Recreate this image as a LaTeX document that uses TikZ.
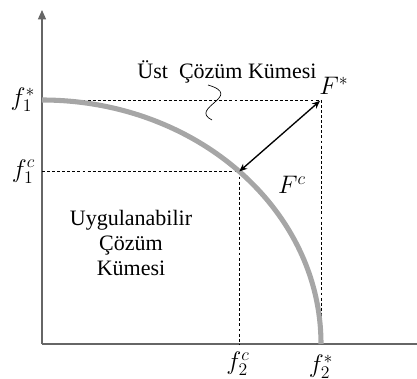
\RequirePackage{fix-cm}
\documentclass[tikz,border=0pt]{standalone}
\usepackage{fontspec}
\setmainfont{Liberation Serif}
\usepackage{tikz}
\usetikzlibrary{arrows.meta, positioning, calc}

\begin{document}
\begin{tikzpicture}[
    x=0.75pt, y=0.75pt,
    axis/.style = {draw=black!60, line width=1pt},
    guide/.style = {draw=black, dashed, dash pattern=on 2.2pt off 1.6pt, line width=0.5pt},
    front/.style = {draw=black!35, line width=3.8pt},
    gap/.style = {draw=black, line width=1pt, {Stealth[length=6pt,width=5pt]}-{Stealth[length=6pt,width=5pt]}},
    lbl/.style = {font=\fontsize{16.5}{18.75}\selectfont, inner sep=1pt, align=center},
    sym/.style = {font=\fontsize{19}{22}\selectfont, inner sep=1pt}
]
\useasboundingbox (0,0) rectangle (417,378);

% Points
\coordinate (O) at (42,34);
\coordinate (ytop) at (42,368);
\coordinate (xend) at (417,34);
\coordinate (Fs) at (321,278);
\coordinate (Fc) at ($(O)+(45:279 and 244)$);
\coordinate (top) at (42,278);
\coordinate (s1) at (208,293);
\coordinate (s2) at (212,258);

% Axes
\draw [axis, -{Triangle[length=7pt,width=6pt]}] (O) -- (ytop);
\draw [axis] (O) -- (xend);

% Guide lines
\draw [guide] (top) -- (Fs);
\draw [guide] (Fs) -- (Fs |- O);
\draw [guide] (O |- Fc) -- (Fc);
\draw [guide] (Fc) -- (Fc |- O);

% Front
\draw [front] (top) arc[start angle=90, end angle=0, x radius=279, y radius=244];

% Distance
\draw [gap, shorten <=1pt] (Fs) -- (Fc);

% Labels
\node (f1s) [sym, left=4pt of top] {$f_1^*$};
\node (f1c) [sym, left=4pt of O |- Fc] {$f_1^c$};
\node (f2c) [sym] at (238,14) {$f_2^c$};
\node (f2s) [sym] at (321,11) {$f_2^*$};
\node (Fsl) [sym] at (334,292) {$F^*$};
\node (Fcl) [sym] at (292,193) {$F^c$};
\node (ust) [lbl] at (227,306) {Üst\ \ Çözüm Kümesi};
\node (feas) [lbl] at (131,135) {Uygulanabilir\\Çözüm\\Kümesi};

% Pointer
\draw [black, line width=0.5pt] (s1) .. controls (245,282) and (188,270) .. (s2);

\end{tikzpicture}
\end{document}
